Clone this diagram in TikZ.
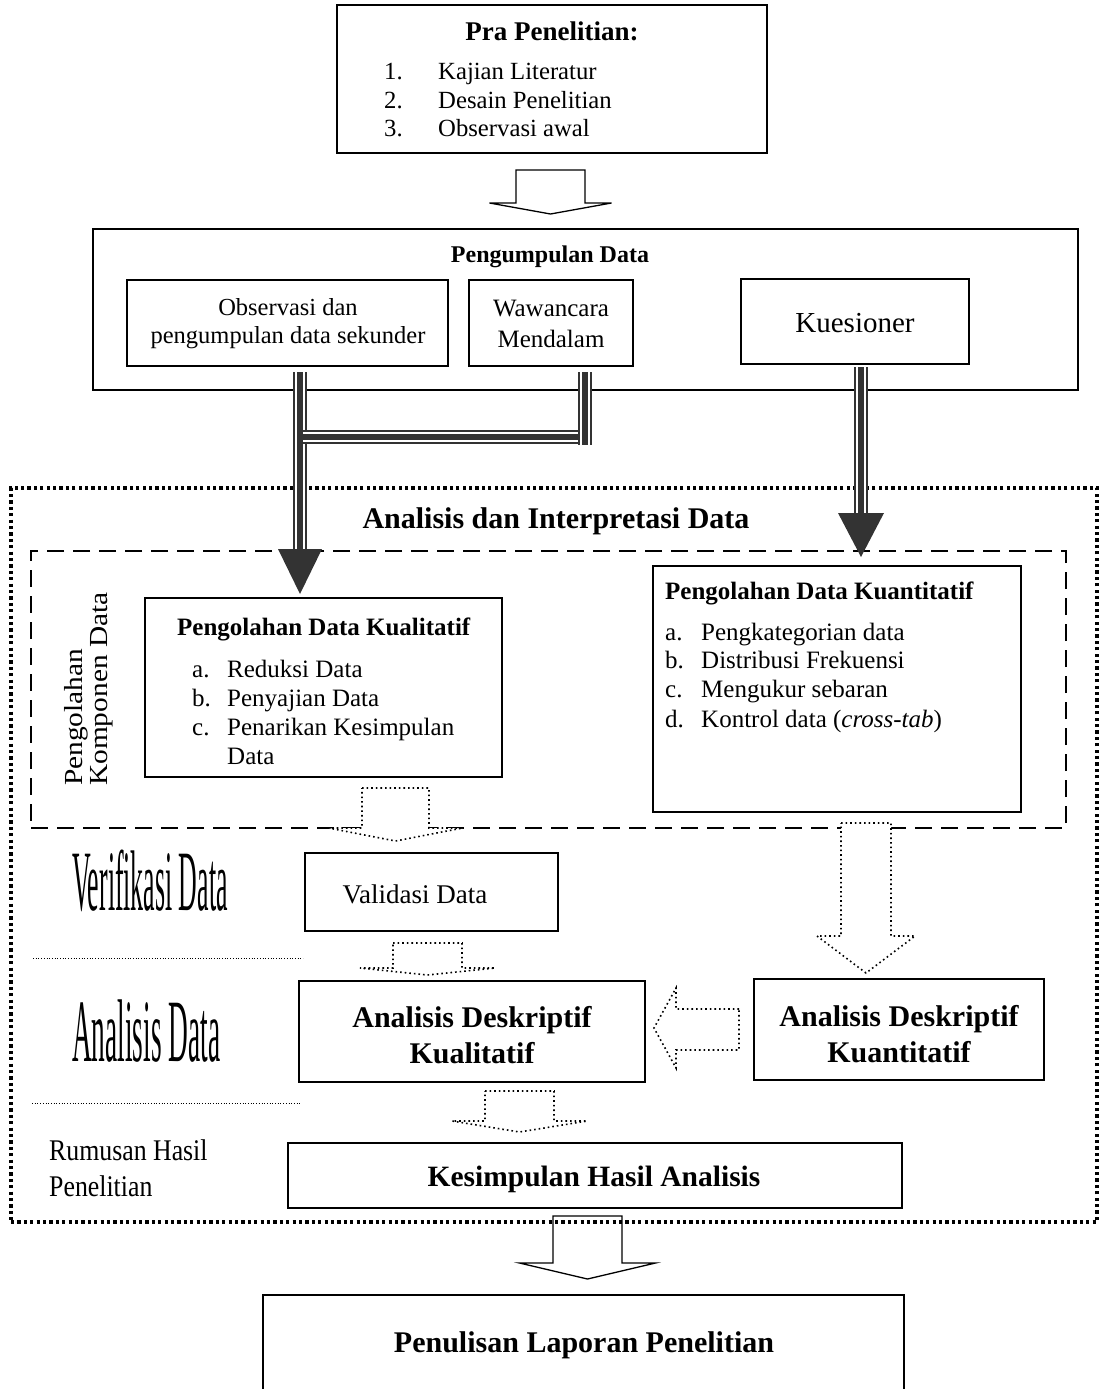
\documentclass[tikz,border=0pt]{standalone}
\usepackage{fontspec}
\setmainfont{Liberation Serif}
\usepackage{graphicx}
\usetikzlibrary{calc}
\definecolor{dk}{HTML}{333333}
\newcommand\fs[1]{\fontsize{#1}{#1}\selectfont}
\newcommand\tripleline[1]{\draw[dk,line width=14pt] #1; \draw[white,line width=10pt] #1; \draw[dk,line width=6pt] #1;}
% block arrow down: [style]{cx}{ytop}{halfshaft}{yshoulder}{halfwing}{ytip}
\newcommand\blkdown[7][]{\draw[#1] ({#2-#4},#3) -- ({#2+#4},#3) -- ({#2+#4},#5) -- ({#2+#6},#5) -- (#2,#7) -- ({#2-#6},#5) -- ({#2-#4},#5) -- cycle;}
\begin{document}
\begin{tikzpicture}[x=1pt,y=-1pt,
  box/.style={draw, line width=1.3pt, inner sep=0pt},
  txt/.style={inner sep=0pt, anchor=base},
  lft/.style={inner sep=0pt, anchor=base west},
  dotbox/.style={draw, line width=3.2pt, dash pattern=on 3.2pt off 3.2pt},
  dashbox/.style={draw, line width=2.4pt, dash pattern=on 17pt off 9pt},
  dotarrow/.style={draw, line width=1.6pt, dash pattern=on 1.6pt off 3pt, fill=white},
  solarrow/.style={draw, line width=1.3pt},
  sepline/.style={line width=0.9pt, dash pattern=on 0.9pt off 1.8pt},
]
\useasboundingbox (0,0) rectangle (1100,1389);

% ---------- Pra Penelitian ----------
\node[box, minimum width=430, minimum height=148] (pra) at (552,79) {};
\node[txt] (tpra) at (552,41) {\fs{27}\bfseries Pra Penelitian:};
\node[lft] (n1) at (384,80) {\fs{24.7}1.};
\node[lft] (i1) at (438,80) {\fs{24.7}Kajian Literatur};
\node[lft] (n2) at (384,108) {\fs{24.7}2.};
\node[lft] (i2) at (438,108) {\fs{24.7}Desain Penelitian};
\node[lft] (n3) at (384,136) {\fs{24.7}3.};
\node[lft] (i3) at (438,136) {\fs{24.7}Observasi awal};

\blkdown[solarrow]{550.5}{170}{34.5}{203}{61}{214}

% ---------- Pengumpulan Data ----------
\node[box, minimum width=985, minimum height=161] (peng) at (585.5,309.5) {};
\node[txt] (tpeng) at (550,262) {\fs{24}\bfseries Pengumpulan Data};
\node[box, minimum width=321, minimum height=86] (obs) at (287.5,323) {};
\node[txt] (obs1) at (288,315) {\fs{24.5}Observasi dan};
\node[txt] (obs2) at (288,343) {\fs{24.5}pengumpulan data sekunder};
\node[box, minimum width=164, minimum height=86] (waw) at (551,323) {};
\node[txt] (waw1) at (551,316) {\fs{25}Wawancara};
\node[txt] (waw2) at (551,347) {\fs{25}Mendalam};
\node[box, minimum width=228, minimum height=85] (kue) at (855,321.5) {};
\node[txt] (kue1) at (855,332) {\fs{29}Kuesioner};

% ---------- Outer dotted and dashed frames ----------
\node[dotbox, minimum width=1086, minimum height=734, inner sep=0pt] (ana) at (554,855) {};
\node[txt] (tana) at (556,528) {\fs{30}\bfseries Analisis dan Interpretasi Data};
\node[dashbox, minimum width=1035, minimum height=277, inner sep=0pt] (komp) at (548.5,689.5) {};
\node[lft, rotate=90] (vt1) at (82,786) {\scalebox{1.13}[1]{\fs{26}Pengolahan}};
\node[lft, rotate=90] (vt2) at (107,786) {\scalebox{1.13}[1]{\fs{26}Komponen Data}};

% ---------- Kualitatif ----------
\node[box, fill=white, minimum width=357, minimum height=179] (kual) at (323.5,687.5) {};
\node[lft] (tkual) at (177,635) {\fs{25}\bfseries Pengolahan Data Kualitatif};
\node[lft] (ka) at (192,677) {\fs{25}a.};
\node[lft] (kat) at (227,677) {\fs{25}Reduksi Data};
\node[lft] (kb) at (192,706) {\fs{25}b.};
\node[lft] (kbt) at (227,706) {\fs{25}Penyajian Data};
\node[lft] (kc) at (192,735) {\fs{25}c.};
\node[lft] (kct) at (227,735) {\fs{25}Penarikan Kesimpulan};
\node[lft] (kct2) at (227,764) {\fs{25}Data};

% ---------- Kuantitatif ----------
\node[box, fill=white, minimum width=368, minimum height=246] (kuan) at (837,689) {};
\node[lft] (tkuan) at (665,599) {\fs{25}\bfseries Pengolahan Data Kuantitatif};
\node[lft] (qa) at (665,640) {\fs{25}a.};
\node[lft] (qat) at (701,640) {\fs{25}Pengkategorian data};
\node[lft] (qb) at (665,668) {\fs{25}b.};
\node[lft] (qbt) at (701,668) {\fs{25}Distribusi Frekuensi};
\node[lft] (qc) at (665,697) {\fs{25}c.};
\node[lft] (qct) at (701,697) {\fs{25}Mengukur sebaran};
\node[lft] (qd) at (665,727) {\fs{25}d.};
\node[lft] (qdt) at (701,727) {\fs{25}Kontrol data (\textit{cross-tab})};

% ---------- Triple connectors ----------
\coordinate (s1) at (300,372);
\coordinate (e1) at (300,550);
\coordinate (s2) at (585,372);
\coordinate (j2) at (585,445);
\coordinate (h1) at (303,437);
\coordinate (h2) at (592,437);
\coordinate (s3) at (861,367);
\coordinate (e3) at (861,514);
\tripleline{(s1) -- (e1)}
\tripleline{(h1) -- (h2)}
\tripleline{(s2) -- (j2)}
\tripleline{(s3) -- (e3)}
\fill[dk] (278,549) -- (322,549) -- (300,594) -- cycle;
\fill[dk] (838,513) -- (884,513) -- (861,557) -- cycle;

% ---------- Verification / analysis ----------
\blkdown[dotarrow]{395.5}{788}{33.5}{828}{67}{841}
\blkdown[dotarrow]{866}{823}{25}{936}{49}{973}
\node[box, minimum width=253, minimum height=78] (val) at (431.5,892) {};
\node[txt] (tval) at (415,903) {\fs{27}Validasi Data};
\blkdown[dotarrow]{427.5}{943}{34.5}{968}{67.5}{975}

\node[box, minimum width=346, minimum height=101] (adk) at (472,1031.5) {};
\node[txt] (adk1) at (472,1027) {\fs{30}\bfseries Analisis Deskriptif};
\node[txt] (adk2) at (472,1063) {\fs{30}\bfseries Kualitatif};
\node[box, minimum width=290, minimum height=101] (adq) at (899,1029.5) {};
\node[txt] (adq1) at (899,1026) {\fs{30}\bfseries Analisis Deskriptif};
\node[txt] (adq2) at (899,1062) {\fs{30}\bfseries Kuantitatif};
\draw[dotarrow] (739,1009) -- (676,1009) -- (676,988) -- (654,1028) -- (676,1068) -- (676,1050) -- (739,1050) -- cycle;

\blkdown[dotarrow]{519.5}{1091}{34.5}{1121}{67.5}{1132}
\node[box, minimum width=614, minimum height=65] (kes) at (595,1175.5) {};
\node[txt] (tkes) at (594,1186) {\fs{29.5}\bfseries Kesimpulan Hasil Analisis};

% ---------- left labels ----------
\node[lft] (lver) at (72,910) {\scalebox{0.30}[1]{\fs{86}Verifikasi Data}};
\draw[sepline] (33,958) -- (303,958);
\node[lft] (lana) at (72,1061) {\scalebox{0.307}[1]{\fs{89}Analisis Data}};
\draw[sepline] (32,1103) -- (300,1103);
\node[lft] (lrum1) at (49,1160) {\scalebox{0.86}[1]{\fs{30}Rumusan Hasil}};
\node[lft] (lrum2) at (49,1196) {\scalebox{0.86}[1]{\fs{30}Penelitian}};

% ---------- Final ----------
\blkdown[solarrow]{587.5}{1216}{34.5}{1263}{68}{1279}
\node[box, minimum width=641, minimum height=125] (pen) at (583.5,1357.5) {};
\node[txt] (tpen) at (584,1352) {\fs{30}\bfseries Penulisan Laporan Penelitian};
\end{tikzpicture}
\end{document}
